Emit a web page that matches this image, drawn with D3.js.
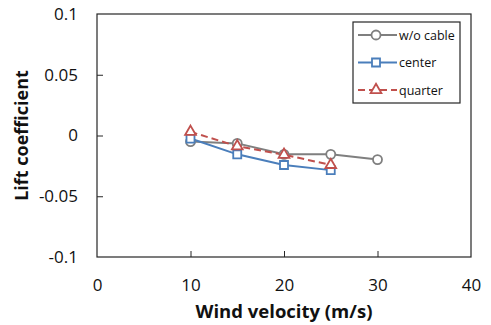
<!DOCTYPE html>
<html>
<head>
<meta charset="utf-8">
<script src="https://cdn.jsdelivr.net/npm/d3@7"></script>
<style>
  body { margin: 0; background: #fff; }
  svg { display: block; font-family: 'Open Sans', sans-serif; }
</style>
</head>
<body>
<svg id="chart" width="491" height="325"></svg>
<script>
// wind velocity (m/s)
const velocity = [10, 15, 20, 25, 30];
// lift coefficient per cable position
const woCable = [-0.005, -0.0065, -0.0155, -0.0155, -0.0198];
const center = [-0.0025, -0.0155, -0.0243, -0.0285];
const quarter = [0.003, -0.0088, -0.0158, -0.0242];

const xTicks = [0, 10, 20, 30, 40];
const yTicks = [-0.1, -0.05, 0, 0.05, 0.1];

const series = [
  { name: 'w/o cable', values: woCable, color: '#7f7f7f', marker: 'circle', dash: null },
  { name: 'center', values: center, color: '#4a7ebb', marker: 'square', dash: null },
  { name: 'quarter', values: quarter, color: '#c0504d', marker: 'triangle', dash: '7,4' },
];

const margin = { top: 14, right: 20, bottom: 68, left: 97 };
const svg = d3.select('#chart');
const width = +svg.attr('width') - margin.left - margin.right;
const height = +svg.attr('height') - margin.top - margin.bottom;

const x = d3.scaleLinear().domain([0, 40]).range([0, width]);
const y = d3.scaleLinear().domain([-0.1, 0.1]).range([height, 0]);

const g = svg.append('g').attr('transform', `translate(${margin.left},${margin.top})`);

// frame around plot area
g.append('rect')
  .attr('width', width).attr('height', height)
  .attr('fill', 'none').attr('stroke', '#262626').attr('stroke-width', 1.2);

function fmt(v) {
  if (v === 0) return '0';
  return String(+v.toFixed(2));
}

// x axis, ticks pointing inward
const xAxis = g.append('g')
  .attr('transform', `translate(0,${height})`)
  .call(d3.axisBottom(x).tickValues(xTicks).tickSize(-6).tickPadding(22).tickFormat(d3.format('d')));
xAxis.select('.domain').remove();
xAxis.selectAll('.tick line').attr('stroke', '#262626')
  .filter((d) => d === 0 || d === 40).remove();
xAxis.selectAll('text').attr('font-size', 17).attr('fill', '#111')
  .attr('font-family', 'Open Sans');

// y axis
const yAxis = g.append('g')
  .call(d3.axisLeft(y).tickValues(yTicks).tickSize(-6).tickPadding(19).tickFormat(fmt));
yAxis.select('.domain').remove();
yAxis.selectAll('.tick line').attr('stroke', '#262626')
  .filter((d) => Math.abs(d) === 0.1).remove();
yAxis.selectAll('text').attr('font-size', 17).attr('fill', '#111')
  .attr('font-family', 'Open Sans');

// axis titles
svg.append('text')
  .attr('x', margin.left + width / 2).attr('y', 318)
  .attr('text-anchor', 'middle').attr('font-weight', 'bold')
  .attr('font-size', 18.5).attr('fill', '#111')
  .text('Wind velocity (m/s)');

svg.append('text')
  .attr('transform', `translate(28,${margin.top + height / 2}) rotate(-90)`)
  .attr('text-anchor', 'middle').attr('font-weight', 'bold')
  .attr('font-size', 18).attr('fill', '#111')
  .text('Lift coefficient');

const symbolTypes = {
  circle: d3.symbolCircle,
  square: d3.symbolSquare,
  triangle: d3.symbolTriangle,
};
const symbolSizes = { circle: 64, square: 64, triangle: 50 };

function drawMarker(sel, s) {
  sel.append('path')
    .attr('d', d3.symbol().type(symbolTypes[s.marker]).size(symbolSizes[s.marker]))
    .attr('fill', '#fff')
    .attr('stroke', s.color)
    .attr('stroke-width', 1.8);
}

const line = d3.line()
  .x((d, i) => x(velocity[i]))
  .y((d) => y(d));

series.forEach((s) => {
  g.append('path')
    .datum(s.values)
    .attr('fill', 'none')
    .attr('stroke', s.color)
    .attr('stroke-width', 2)
    .attr('stroke-dasharray', s.dash)
    .attr('d', line);
});

series.forEach((s) => {
  s.values.forEach((v, i) => {
    const m = g.append('g').attr('transform', `translate(${x(velocity[i])},${y(v)})`);
    drawMarker(m, s);
  });
});

// legend
const legend = svg.append('g').attr('transform', 'translate(353,22)');
legend.append('rect')
  .attr('width', 107).attr('height', 81)
  .attr('fill', '#fff').attr('stroke', '#262626').attr('stroke-width', 1.2);

series.forEach((s, i) => {
  const row = legend.append('g').attr('transform', `translate(0,${13 + i * 27.5})`);
  row.append('line')
    .attr('x1', 5).attr('x2', 44).attr('y1', 0).attr('y2', 0)
    .attr('stroke', s.color).attr('stroke-width', 2)
    .attr('stroke-dasharray', s.dash);
  const m = row.append('g').attr('transform', 'translate(23,0)');
  drawMarker(m, s);
  row.append('text')
    .attr('x', 46).attr('y', 4.5)
    .attr('font-size', 12.5).attr('fill', '#111')
    .text(s.name);
});
</script>
</body>
</html>
